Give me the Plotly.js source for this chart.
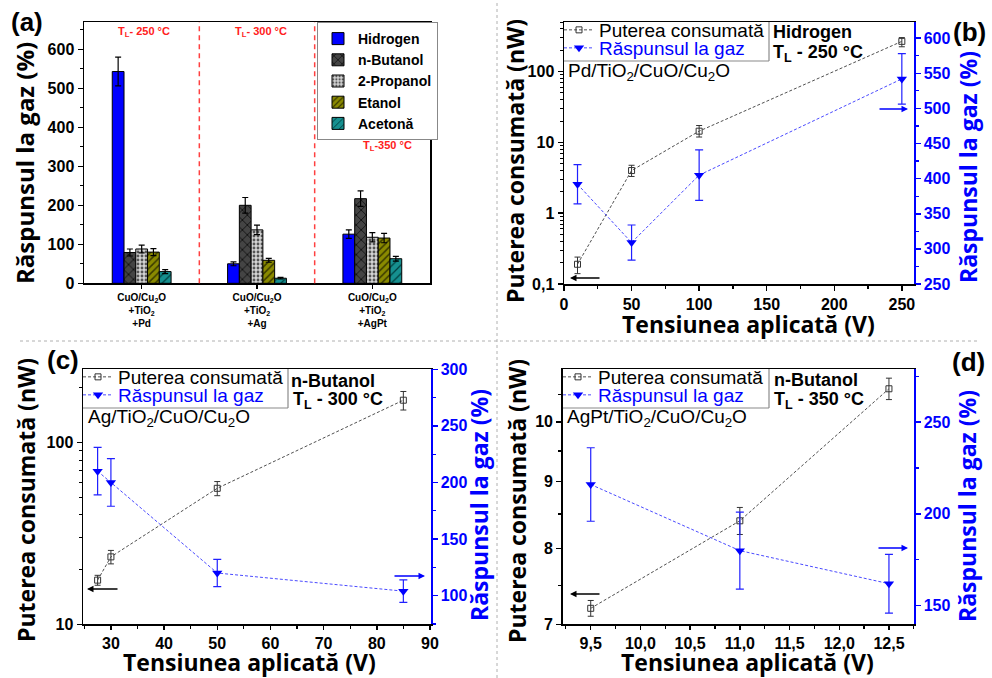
<!DOCTYPE html>
<html>
<head>
<meta charset="utf-8">
<script src="https://cdn.plot.ly/plotly-3.0.1.min.js"></script>
<style>html,body{margin:0;padding:0;background:#fff}#chart{width:992px;height:678px}</style>
</head>
<body>
<div id="chart"></div>
<script>
// ---------- DATA ----------
// Panel (a)
const categoriesA = ['CuO/Cu<sub>2</sub>O<br>+TiO<sub>2</sub><br>+Pd', 'CuO/Cu<sub>2</sub>O<br>+TiO<sub>2</sub><br>+Ag', 'CuO/Cu<sub>2</sub>O<br>+TiO<sub>2</sub><br>+AgPt'];
const gasNames = ['Hidrogen', 'n-Butanol', '2-Propanol', 'Etanol', 'Acetonă'];
const hidrogen = [543, 50, 126];      const hidrogenErr = [37, 5, 11];
const nButanol = [79, 200, 217];      const nButanolErr = [9, 20, 20];
const propanol2 = [88, 137, 118];     const propanol2Err = [10, 12, 12];
const etanol = [80, 59, 116];         const etanolErr = [9, 5, 12];
const acetona = [30, 13, 63];         const acetonaErr = [5, 2, 6];

// Panel (b)  Pd/TiO2/CuO/Cu2O, Hidrogen, 250 °C
const voltB = [10, 50, 100, 250];
const powerB = [0.19, 4.0, 14.4, 267];
const powerBErrPlus = [0.05, 0.75, 2.9, 35];
const powerBErrMinus = [0.05, 0.7, 2.5, 43];
const respB = [392, 309, 405, 542];
const respBErr = [28, 25, 36, 36];

// Panel (c)  Ag/TiO2/CuO/Cu2O, n-Butanol, 300 °C
const voltC = [27.5, 30, 50, 85];
const powerC = [17.5, 23.5, 56, 171];
const powerCErr = [1.1, 2, 5, 20];
const respC = [210, 200, 120, 104];
const respCErr = [21, 21, 12, 10];

// Panel (d)  AgPt/TiO2/CuO/Cu2O, n-Butanol, 350 °C
const voltD = [9.5, 11, 12.5];
const powerD = [7.2, 8.4, 10.6];
const powerDErr = [0.1, 0.2, 0.2];
const respD = [216, 180, 162];
const respDErr = [20, 21, 16];

// ---------- HELPERS ----------
const W = 992, H = 678;
const X = p => p / W;
const Y = p => 1 - p / H;
const TICKF = {family: 'Liberation Sans', size: 16, weight: 'bold', color: 'black'};
const BLUE = '#0000ff';
function axis(o) {
  return Object.assign({showline: true, linecolor: 'black', linewidth: 1.5, ticks: 'outside', ticklen: 5,
    tickwidth: 1.5, tickcolor: 'black', showgrid: false, zeroline: false, tickfont: TICKF, fixedrange: true}, o);
}

// ---------- TRACES ----------
const barSpecs = [
  {v: hidrogen, e: hidrogenErr, color: '#0000ff', pattern: null},
  {v: nButanol, e: nButanolErr, color: '#404040', pattern: {shape: 'x', fgcolor: '#111111', bgcolor: '#444444', size: 7, solidity: 0.25, fillmode: 'replace'}},
  {v: propanol2, e: propanol2Err, color: '#c8c8c8', pattern: {shape: '.', fgcolor: '#555555', bgcolor: '#d4d4d4', size: 4, solidity: 0.4, fillmode: 'replace'}},
  {v: etanol, e: etanolErr, color: '#808000', pattern: {shape: '/', fgcolor: '#3a3a00', bgcolor: '#8a8a00', size: 5, solidity: 0.3, fillmode: 'replace'}},
  {v: acetona, e: acetonaErr, color: '#008080', pattern: {shape: '/', fgcolor: '#004040', bgcolor: '#169090', size: 6, solidity: 0.2, fillmode: 'replace'}}
];
const traces = barSpecs.map((s, i) => {
  const m = {color: s.color, line: {color: 'black', width: 1}};
  if (s.pattern) m.pattern = s.pattern;
  return {type: 'bar', x: categoriesA, y: s.v, name: gasNames[i], xaxis: 'x', yaxis: 'y', legend: 'legend',
    marker: m, error_y: {type: 'data', array: s.e, visible: true, color: 'black', thickness: 1.2, width: 3}};
});

const powName = 'Puterea consumată';
const respName = 'Răspunsul la gaz';
function powTrace(x, y, ep, em, xa, ya, lg) {
  return {type: 'scatter', mode: 'lines+markers', x: x, y: y, name: powName, xaxis: xa, yaxis: ya, legend: lg,
    line: {color: '#505050', width: 1, dash: '3px,2px'},
    marker: {symbol: 'square-open', size: 6, color: '#333333', line: {width: 1}},
    error_y: {type: 'data', symmetric: false, array: ep, arrayminus: em, color: '#333333', thickness: 1, width: 3}};
}
function respTrace(x, y, e, xa, ya, lg) {
  return {type: 'scatter', mode: 'lines+markers', x: x, y: y, name: respName, xaxis: xa, yaxis: ya, legend: lg,
    line: {color: '#4a4aff', width: 1, dash: '3px,2px'},
    marker: {symbol: 'triangle-down', size: 9, color: BLUE},
    error_y: {type: 'data', array: e, color: '#2020ff', thickness: 1.2, width: 4}};
}
traces.push(powTrace(voltB, powerB, powerBErrPlus, powerBErrMinus, 'x2', 'y2', 'legend2'));
traces.push(respTrace(voltB, respB, respBErr, 'x2', 'y3', 'legend3'));
traces.push(powTrace(voltC, powerC, powerCErr, powerCErr, 'x3', 'y4', 'legend4'));
traces.push(respTrace(voltC, respC, respCErr, 'x3', 'y5', 'legend5'));
traces.push(powTrace(voltD, powerD, powerDErr, powerDErr, 'x4', 'y6', 'legend6'));
traces.push(respTrace(voltD, respD, respDErr, 'x4', 'y7', 'legend7'));

// ---------- LAYOUT ----------
const domA = {x: [X(84), X(430)], y: [Y(283.3), Y(22)]};
const domB = {x: [X(564), X(914)], y: [Y(284), Y(22)]};
const domC = {x: [X(83), X(431)], y: [Y(624.3), Y(369.3)]};
const domD = {x: [X(562.7), X(914)], y: [Y(624.3), Y(369.3)]};

function leg(x, y, color) {
  return {xanchor: 'left', yanchor: 'top', x: X(x), y: Y(y), bgcolor: 'rgba(0,0,0,0)', borderwidth: 0,
    font: {family: 'Liberation Sans', size: 19, color: color}, itemwidth: 30, tracegroupgap: 0};
}

const TITLEF = {family: 'Open Sans', size: 23, weight: 'bold', color: 'black'};
const TITLEFB = {family: 'Open Sans', size: 23, weight: 'bold', color: BLUE};
const INF = {family: 'Liberation Sans', size: 19, color: 'black'};
const INFB = {family: 'Liberation Sans', size: 18, color: 'black', weight: 'bold'};
const REDF = {family: 'Liberation Sans', size: 11, color: '#ff2020', weight: 'bold'};
const LETF = {family: 'Liberation Sans', size: 26, color: 'black', weight: 'bold'};

function txt(t, x, y, font, o) {
  return Object.assign({text: t, xref: 'paper', yref: 'paper', x: X(x), y: Y(y), showarrow: false,
    xanchor: 'left', yanchor: 'middle', font: font}, o || {});
}
function arrow(x, y, ax, color) {
  return {text: '', xref: 'paper', yref: 'paper', x: X(x), y: Y(y), ax: ax, ay: 0, showarrow: true,
    arrowhead: 2, arrowsize: 1, arrowwidth: 1.3, arrowcolor: color, standoff: 0, startstandoff: 0};
}
const annotations = [
  txt('(a)', 9, 22, LETF), txt('(b)', 951, 32, LETF), txt('(c)', 45, 360, LETF), txt('(d)', 950, 362, LETF),
  // panel (a)
  txt('Răspunsul la gaz (%)', 24, 163, Object.assign({}, TITLEF, {size: 24}), {xanchor: 'center', textangle: -90}),
  txt('T<sub>L</sub>- 250 °C', 144, 32, REDF, {xanchor: 'center'}),
  txt('T<sub>L</sub>- 300 °C', 261, 32, REDF, {xanchor: 'center'}),
  txt('T<sub>L</sub>-350 °C', 387, 146, REDF, {xanchor: 'center'}),
  // panel (b)
  txt('Puterea consumată (nW)', 515, 161, TITLEF, {xanchor: 'center', textangle: -90}),
  txt('Răspunsul la gaz (%)', 968, 167, TITLEFB, {xanchor: 'center', textangle: -90}),
  txt('Tensiunea aplicată (V)', 748, 324, TITLEF, {xanchor: 'center'}),
  txt('Pd/TiO<sub>2</sub>/CuO/Cu<sub>2</sub>O', 566, 72, INF),
  txt('Hidrogen', 771, 32, INFB),
  txt('T<sub>L</sub> - 250 °C', 771, 53, INFB),
  arrow(570, 278, 31, 'black'), arrow(908, 109, -30, BLUE),
  // panel (c)
  txt('Puterea consumată (nW)', 26, 500, TITLEF, {xanchor: 'center', textangle: -90}),
  txt('Răspunsul la gaz (%)', 479, 505, TITLEFB, {xanchor: 'center', textangle: -90}),
  txt('Tensiunea aplicată (V)', 249, 661.5, TITLEF, {xanchor: 'center'}),
  txt('Ag/TiO<sub>2</sub>/CuO/Cu<sub>2</sub>O', 86, 418, INF),
  txt('n-Butanol', 289, 381, INFB),
  txt('T<sub>L</sub> - 300 °C', 291, 401, INFB),
  arrow(87, 589, 32, 'black'), arrow(425, 576, -32, BLUE),
  // panel (d)
  txt('Puterea consumată (nW)', 517, 501, TITLEF, {xanchor: 'center', textangle: -90}),
  txt('Răspunsul la gaz (%)', 967, 506, TITLEFB, {xanchor: 'center', textangle: -90}),
  txt('Tensiunea aplicată (V)', 747, 661.5, TITLEF, {xanchor: 'center'}),
  txt('AgPt/TiO<sub>2</sub>/CuO/Cu<sub>2</sub>O', 565, 418, INF),
  txt('n-Butanol', 772, 380, INFB),
  txt('T<sub>L</sub> - 350 °C', 772, 401, INFB),
  arrow(570, 594, 31, 'black'), arrow(908, 548, -31, BLUE)
];

function legBox(x0, y0, x1, y1) {
  return [
    {type: 'rect', xref: 'paper', yref: 'paper', x0: X(x0 + 1), x1: X(x1), y0: Y(y1), y1: Y(y0 + 1), fillcolor: 'white', line: {width: 0}, layer: 'above'},
    {type: 'line', xref: 'paper', yref: 'paper', x0: X(x0), x1: X(x1), y0: Y(y1), y1: Y(y1), line: {color: '#8a8a8a', width: 1.2}, layer: 'above'},
    {type: 'line', xref: 'paper', yref: 'paper', x0: X(x1), x1: X(x1), y0: Y(y1), y1: Y(y0), line: {color: '#8a8a8a', width: 1.2}, layer: 'above'}
  ];
}

const shapes = [
  {type: 'line', xref: 'x', yref: 'y domain', x0: 0.5, x1: 0.5, y0: 0, y1: 1, line: {color: '#ff4040', width: 1.5, dash: '5px,4px'}},
  {type: 'line', xref: 'x', yref: 'y domain', x0: 1.5, x1: 1.5, y0: 0, y1: 1, line: {color: '#ff4040', width: 1.5, dash: '5px,4px'}},
  {type: 'line', xref: 'paper', yref: 'paper', x0: X(497), x1: X(497), y0: 0, y1: 1, line: {color: '#b0b0b0', width: 1, dash: 'dot'}},
  {type: 'line', xref: 'paper', yref: 'paper', x0: X(20), x1: X(980), y0: Y(341), y1: Y(341), line: {color: '#b0b0b0', width: 1, dash: 'dot'}}
].concat(legBox(564, 22, 769, 61), legBox(83, 369, 288, 408), legBox(563, 369, 769, 408));

const layout = {
  width: W, height: H, margin: {l: 0, r: 0, t: 0, b: 0, pad: 0},
  paper_bgcolor: 'white', plot_bgcolor: 'white', separators: ',.',
  font: {family: 'Liberation Sans', color: 'black'},
  barmode: 'group', bargap: 0.49, bargroupgap: 0,
  showlegend: true,
  // (a)
  xaxis: axis({domain: domA.x, anchor: 'y', type: 'category', range: [-0.5, 2.5], mirror: true, ticklen: 4,
    tickfont: {family: 'Liberation Sans', size: 10, weight: 'bold', color: 'black'}, tickangle: 0}),
  yaxis: axis({domain: domA.y, anchor: 'x', range: [0, 670], dtick: 100, mirror: true,
    minor: {ticks: 'outside', dtick: 50, ticklen: 3, tickwidth: 1.2, tickcolor: 'black'}}),
  // (b)
  xaxis2: axis({domain: domB.x, anchor: 'y2', range: [0, 259], dtick: 50, mirror: true,
    minor: {ticks: 'outside', dtick: 25, ticklen: 3, tickwidth: 1.2, tickcolor: 'black'}}),
  yaxis2: axis({domain: domB.y, anchor: 'x2', type: 'log', range: [-1, 2.70], dtick: 1,
    minor: {ticks: 'outside', dtick: 'D1', ticklen: 3, tickwidth: 1, tickcolor: 'black'}}),
  yaxis3: axis({overlaying: 'y2', anchor: 'x2', side: 'right', range: [250, 623], dtick: 50,
    linecolor: BLUE, tickcolor: BLUE, tickfont: Object.assign({}, TICKF, {color: BLUE}),
    minor: {ticks: 'outside', dtick: 25, ticklen: 3, tickwidth: 1.2, tickcolor: BLUE}}),
  // (c)
  xaxis3: axis({domain: domC.x, anchor: 'y4', range: [24.75, 90.2], dtick: 10, tick0: 0, mirror: true, ticklen: 4,
    minor: {ticks: 'outside', dtick: 5, ticklen: 3, tickwidth: 1.2, tickcolor: 'black'}}),
  yaxis4: axis({domain: domC.y, anchor: 'x3', type: 'log', range: [1, 2.403], dtick: 1,
    minor: {ticks: 'outside', dtick: 'D1', ticklen: 3, tickwidth: 1, tickcolor: 'black'}}),
  yaxis5: axis({overlaying: 'y4', anchor: 'x3', side: 'right', range: [74.7, 300], dtick: 50, tick0: 0,
    linecolor: BLUE, tickcolor: BLUE, tickfont: Object.assign({}, TICKF, {color: BLUE}),
    minor: {ticks: 'outside', dtick: 25, ticklen: 3, tickwidth: 1.2, tickcolor: BLUE}}),
  // (d)
  xaxis4: axis({domain: domD.x, anchor: 'y6', range: [9.218, 12.752], dtick: 0.5, tick0: 0, tickformat: '.1f', mirror: true, ticklen: 4,
    minor: {ticks: 'outside', dtick: 0.25, ticklen: 3, tickwidth: 1.2, tickcolor: 'black'}}),
  yaxis6: axis({domain: domD.y, anchor: 'x4', type: 'log', range: [Math.log10(7), 1.0402], tickmode: 'array',
    tickvals: [7, 8, 9, 10], ticktext: ['7', '8', '9', '10'],
    minor: {ticks: 'outside', tickmode: 'array', tickvals: [7.5, 8.5, 9.5, 10.5], ticklen: 3, tickwidth: 1.2, tickcolor: 'black'}}),
  yaxis7: axis({overlaying: 'y6', anchor: 'x4', side: 'right', range: [139.9, 278.7], dtick: 50, tick0: 0,
    linecolor: BLUE, tickcolor: BLUE, tickfont: Object.assign({}, TICKF, {color: BLUE}),
    minor: {ticks: 'outside', dtick: 25, ticklen: 3, tickwidth: 1.2, tickcolor: BLUE}}),
  legend: {xanchor: 'left', yanchor: 'top', x: X(317), y: Y(22), bgcolor: 'white', bordercolor: '#888888', borderwidth: 1,
    font: {family: 'Liberation Sans', size: 14, weight: 'bold', color: 'black'}, itemwidth: 30, tracegroupgap: 0},
  legend2: leg(559, 11, 'black'),
  legend3: leg(559, 29, BLUE),
  legend4: leg(78, 358, 'black'),
  legend5: leg(78, 376, BLUE),
  legend6: leg(558, 358, 'black'),
  legend7: leg(558, 376, BLUE),
  annotations: annotations,
  shapes: shapes
};

Plotly.newPlot('chart', traces, layout, {staticPlot: true, displayModeBar: false});
</script>
</body>
</html>
